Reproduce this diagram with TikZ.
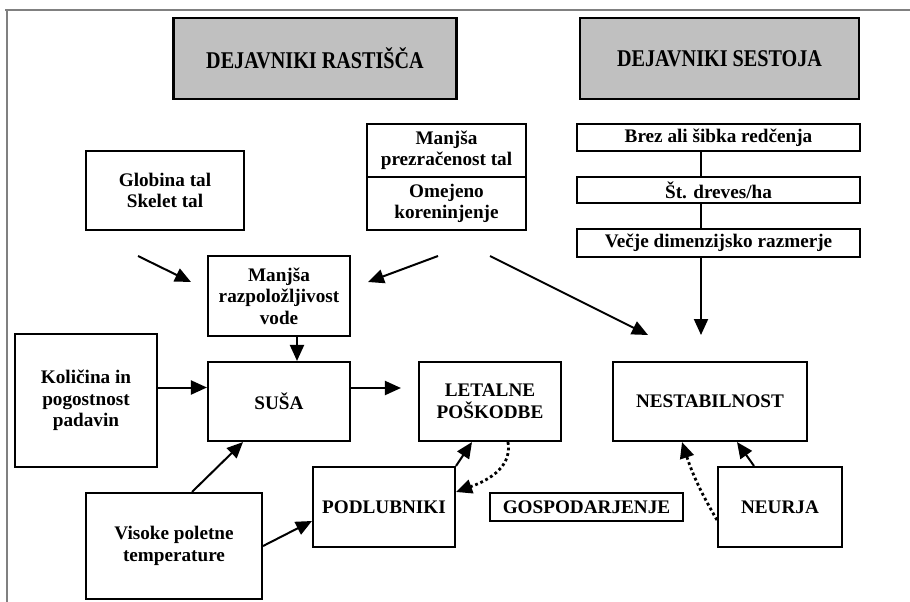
\documentclass[tikz,border=0pt]{standalone}
\usepackage{fontspec}
\setmainfont{Liberation Serif}
\usepackage{graphicx}
\usetikzlibrary{
  arrows.meta % Triangle arrow tips
}
\definecolor{hdgray}{RGB}{192,192,192}
\definecolor{framegray}{RGB}{128,128,128}
\newcommand\boxfont{\fontsize{19.2}{21.5}\selectfont\bfseries}
\newcommand\headtext[1]{\scalebox{0.84}[1]{\fontsize{24}{26}\selectfont\bfseries #1}}
\tikzset{
  box/.style={
    draw=black,
    line width=2.1pt,
    fill=white,
    align=center,
    inner sep=2pt,
    font=\boxfont
  },
  head box/.style={
    draw=black,
    line width=2.5pt,
    fill=hdgray,
    minimum height=81pt
  },
  arr/.style={
    -{Triangle[length=16pt,width=14pt]},
    line width=2pt
  },
  dot arr/.style={
    arr,
    line width=2.8pt,
    dash pattern=on 2.8pt off 2.8pt
  },
  link/.style={
    line width=2pt
  }
}

\begin{document}
\begin{tikzpicture}[x=1pt, y=-1pt]
    \useasboundingbox (0,0) rectangle (910,602);

    % okvir (le zgoraj in levo)
    \draw[framegray, line width=1.3pt] (5,10) -- (910,10);
    \draw[framegray, line width=1.3pt] (7,10) -- (7,602);

    % naslovna polja
    \node[head box, minimum width=283pt] (hdrast) at (315,58.5) {\headtext{DEJAVNIKI RASTIŠČA}};
    \node[head box, minimum width=279pt] (hdsest) at (719.5,58.5) {\headtext{DEJAVNIKI SESTOJA}};

    % dejavniki rastišča
    \node[box, minimum width=158pt, minimum height=79pt] (globina) at (165,190.5) {Globina tal\\Skelet tal};
    \node[box, minimum width=159pt, minimum height=53pt] (prezr) at (446.5,150.5) {Manjša\\prezračenost tal};
    \node[box, minimum width=159pt, minimum height=53pt] (korenine) at (446.5,203.5) {Omejeno\\koreninjenje};
    \node[box, minimum width=142pt, minimum height=80pt] (razp) at (279,296) {Manjša\\razpoložljivost\\vode};
    \node[box, minimum width=142pt, minimum height=133pt] (kolicina) at (86,400.5) {Količina in\\pogostnost\\padavin};
    \node[box, minimum width=142pt, minimum height=79pt] (susa) at (279,401.5) {SUŠA};
    \node[box, minimum width=176pt, minimum height=106pt] (visoke) at (174,546) {Visoke poletne\\temperature};

    % dejavniki sestoja
    \node[box, minimum width=283pt, minimum height=27pt] (brez) at (718.5,137.5) {Brez ali šibka redčenja};
    \node[box, minimum width=283pt, minimum height=26pt] (stdreves) at (718.5,190) {Št. dreves/ha};
    \node[box, minimum width=283pt, minimum height=28pt] (vecje) at (718.5,243) {Večje dimenzijsko razmerje};

    % posledice
    \node[box, minimum width=142pt, minimum height=79pt] (letalne) at (490,401.5) {LETALNE\\POŠKODBE};
    \node[box, minimum width=194pt, minimum height=79pt] (nestab) at (710,401.5) {NESTABILNOST};
    \node[box, minimum width=142pt, minimum height=80pt] (podlub) at (384,507) {PODLUBNIKI};
    \node[box, minimum width=193pt, minimum height=28pt] (gosp) at (586.5,507) {GOSPODARJENJE};
    \node[box, minimum width=124pt, minimum height=80pt] (neurja) at (780,507) {NEURJA};

    % prosti konci puščic
    \coordinate (glob1) at (138,256);
    \coordinate (glob2) at (191,282);
    \coordinate (kor1) at (438,256);
    \coordinate (kor2) at (368,282);
    \coordinate (kor3) at (490,256);
    \coordinate (kor4) at (648,335);
    \coordinate (vec1) at (701,335);

    % povezave
    \draw[arr] (glob1) -- (glob2);
    \draw[arr] (kor1) -- (kor2);
    \draw[arr] (kor3) -- (kor4);
    \draw[link] ([xshift=-17.5pt]brez.south) -- ([xshift=-17.5pt]stdreves.north);
    \draw[link] ([xshift=-17.5pt]stdreves.south) -- ([xshift=-17.5pt]vecje.north);
    \draw[arr] ([xshift=-17.5pt]vecje.south) -- (vec1);
    \draw[arr] ([xshift=18pt]razp.south) -- ([xshift=18pt]susa.north);
    \draw[arr] ([yshift=13pt]kolicina.east) coordinate (kol1) -- (susa.west |- kol1);
    \draw[arr] ([yshift=13.5pt]susa.east) -- ([yshift=13.5pt, xshift=-17pt]letalne.west);
    \draw[arr] ([xshift=18pt]visoke.north) -- ([xshift=-36pt]susa.south);
    \draw[arr] (visoke.east) -- ([yshift=-14pt]podlub.west);
    \draw[arr] (podlub.north east) -- ([xshift=-18pt]letalne.south);
    \draw[dot arr] ([xshift=18pt]letalne.south) to[out=-80, in=20] ([yshift=15pt]podlub.east);
    \draw[arr] ([xshift=-26pt]neurja.north) -- ([xshift=27pt]nestab.south);
    \draw[dot arr] ([yshift=-13pt]neurja.west) to[bend left=6] ([xshift=-28pt]nestab.south);

  \end{tikzpicture}
\end{document}
